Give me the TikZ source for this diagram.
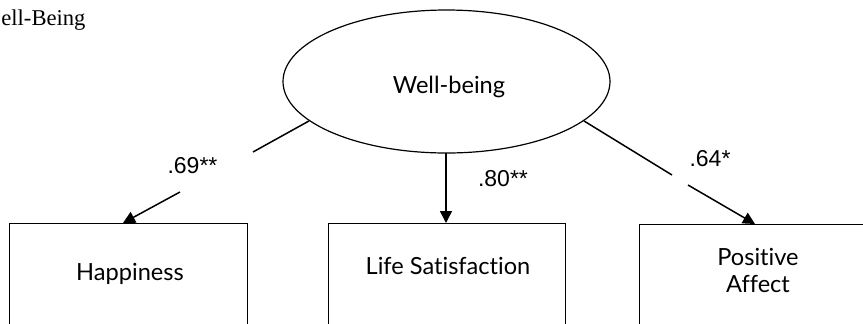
\documentclass[tikz,border=0pt]{standalone}
\usepackage{fontspec}
\setmainfont{Liberation Serif}
\newfontfamily\boxfont[Ligatures=NoCommon]{Lato}
\newfontfamily\numfont{Liberation Sans}
\usetikzlibrary{shapes.geometric,arrows.meta}
\begin{document}
\begin{tikzpicture}[x=0.5pt,y=-0.5pt,
  shapeline/.style={draw=black,line width=0.6pt},
  boxstyle/.style={shapeline,rectangle,anchor=north west,inner sep=0pt},
  boxtext/.style={font=\boxfont\fontsize{11.8pt}{13.5pt}\selectfont,inner sep=0pt,text=black},
  numtext/.style={font=\numfont\fontsize{11.5pt}{13pt}\selectfont,inner sep=0pt,anchor=base},
  path/.style={line width=0.75pt},
  arr/.style={path,-{Triangle[length=6pt,width=6pt]}}]
\useasboundingbox (0,0) rectangle (863,323);
\clip (0,0) rectangle (863,323);
% title fragment
\node[font=\fontsize{11.3pt}{13pt}\selectfont,anchor=base west,inner sep=0pt] (title) at (1,25) {ell-Being};
% latent variable
\node[shapeline,ellipse,minimum width=163.5pt,minimum height=71.5pt,inner sep=0pt] (wb) at (446.5,81.5) {};
\node[boxtext,anchor=base] (wbt) at (449,93) {Well-being};
% indicator boxes
\node[boxstyle,minimum width=119pt,minimum height=100pt] (hap) at (9,223) {};
\node[boxstyle,minimum width=118.5pt,minimum height=100pt] (ls) at (328,223) {};
\node[boxstyle,minimum width=130pt,minimum height=100pt] (pa) at (639,224) {};
\node[boxtext,anchor=base] (hapt) at (130,280) {Happiness};
\node[boxtext,anchor=base] (lst) at (448,274) {Life Satisfaction};
\node[boxtext,align=center,anchor=center] (pat) at (758,270) {Positive\\Affect};
% connector coordinates
\coordinate (g1a) at (253,152);
\coordinate (g1b) at (180,192);
\coordinate (t1) at (123,223);
\coordinate (s2) at (446,153);
\coordinate (t2) at (446,223);
\coordinate (g3a) at (672,175);
\coordinate (g3b) at (688,185);
\coordinate (t3) at (755,224);
% connectors
\draw[path] (wb.196.3) -- (g1a);
\draw[arr] (g1b) -- (t1);
\draw[arr] (s2) -- (t2);
\draw[path] (wb.-16.7) -- (g3a);
\draw[arr] (g3b) -- (t3);
% loadings
\node[numtext] (l1) at (192.5,173) {.69**};
\node[numtext] (l2) at (503,186) {.80**};
\node[numtext] (l3) at (710,166) {.64*};
\end{tikzpicture}
\end{document}
